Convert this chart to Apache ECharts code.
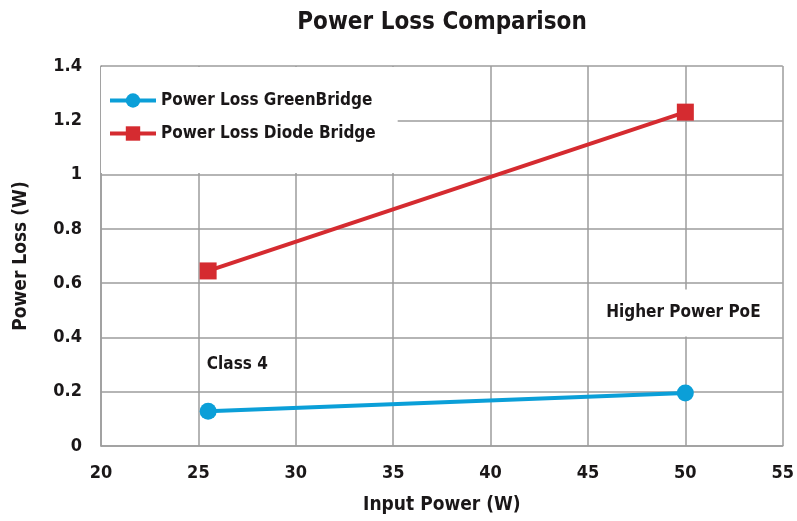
<!DOCTYPE html>
<html>
<head>
<meta charset="utf-8">
<script src="https://cdn.jsdelivr.net/npm/echarts@6/dist/echarts.min.js"></script>
<style>
  html, body { margin: 0; padding: 0; background: #fff; }
  #chart { width: 797px; height: 521px; }
</style>
</head>
<body>
<div id="chart"></div>
<script>
// 数据
var inputPower = [25.5, 50];
var lossGreenBridge = [0.128, 0.195];
var lossDiodeBridge = [0.645, 1.23];
var seriesNames = ['Power Loss GreenBridge', 'Power Loss Diode Bridge'];
var notes = [
  { text: 'Class 4', coord: [27.0, 0.30] },
  { text: 'Higher Power PoE', coord: [49.9, 0.49] }
];

var FONT = '"Liberation Sans Narrow", "DejaVu Sans Condensed", sans-serif';
var GRID_COLOR = '#9d9d9d';
var TEXT_COLOR = '#1a1718';

function pairs(xs, ys) {
  return xs.map(function (x, i) { return [x, ys[i]]; });
}

var chart = echarts.init(document.getElementById('chart'));
var option = {
  backgroundColor: '#fff',
  title: {
    text: 'Power Loss Comparison',
    left: 437,
    textAlign: 'center',
    top: 6,
    textStyle: { fontFamily: FONT, fontSize: 24, fontWeight: 'bold', color: TEXT_COLOR }
  },
  legend: {
    left: 101,
    top: 67,
    orient: 'vertical',
    backgroundColor: '#fff',
    padding: [25, 22, 31, 7],
    itemWidth: 46,
    itemHeight: 18,
    itemGap: 16,
    lineStyle: { width: 4 },
    textStyle: { fontFamily: FONT, fontSize: 17, fontWeight: 'bold', color: TEXT_COLOR },
    data: seriesNames
  },
  grid: { left: 101, right: 11, top: 66, bottom: 75 },
  xAxis: {
    type: 'value',
    min: 20,
    max: 55,
    interval: 5,
    name: 'Input Power (W)',
    nameLocation: 'middle',
    nameGap: 50,
    nameTextStyle: { fontFamily: FONT, fontSize: 19, fontWeight: 'bold', color: TEXT_COLOR },
    axisLine: { lineStyle: { color: GRID_COLOR, width: 1.5 } },
    axisTick: { show: false },
    axisLabel: { margin: 18, fontFamily: FONT, fontSize: 18, fontWeight: 'bold', color: TEXT_COLOR },
    splitLine: { lineStyle: { color: GRID_COLOR, width: 1.5 } }
  },
  yAxis: {
    type: 'value',
    min: 0,
    max: 1.4,
    interval: 0.2,
    name: 'Power Loss (W)',
    nameLocation: 'middle',
    nameGap: 70,
    nameTextStyle: { fontFamily: FONT, fontSize: 19, fontWeight: 'bold', color: TEXT_COLOR },
    axisLine: { show: true, lineStyle: { color: GRID_COLOR, width: 1.5 } },
    axisTick: { show: false },
    axisLabel: {
      margin: 19,
      fontFamily: FONT, fontSize: 18, fontWeight: 'bold', color: TEXT_COLOR,
      formatter: function (v) { return String(Math.round(v * 10) / 10); }
    },
    splitLine: { lineStyle: { color: GRID_COLOR, width: 1.5 } }
  },
  series: [
    {
      name: seriesNames[0],
      type: 'line',
      data: pairs(inputPower, lossGreenBridge),
      symbol: 'circle',
      symbolSize: 17,
      lineStyle: { color: '#0b9fd8', width: 4 },
      itemStyle: { color: '#0b9fd8' },
      z: 5,
      markPoint: {
        symbol: 'rect',
        symbolSize: 0,
        silent: true,
        label: {
          show: true,
          position: 'inside',
          fontFamily: FONT,
          fontSize: 17,
          fontWeight: 'bold',
          color: TEXT_COLOR,
          formatter: function (p) { return p.name; }
        },
        data: [
          { name: notes[0].text, coord: notes[0].coord },
          {
            name: notes[1].text,
            coord: notes[1].coord,
            label: { backgroundColor: '#fff', padding: [15, 14] }
          }
        ]
      }
    },
    {
      name: seriesNames[1],
      type: 'line',
      data: pairs(inputPower, lossDiodeBridge),
      symbol: 'rect',
      symbolSize: 17,
      lineStyle: { color: '#d52b30', width: 4 },
      itemStyle: { color: '#d52b30' },
      z: 5
    }
  ]
};
chart.setOption(option);

window.addEventListener('resize', function () {
  chart.resize();
});
</script>
</body>
</html>
